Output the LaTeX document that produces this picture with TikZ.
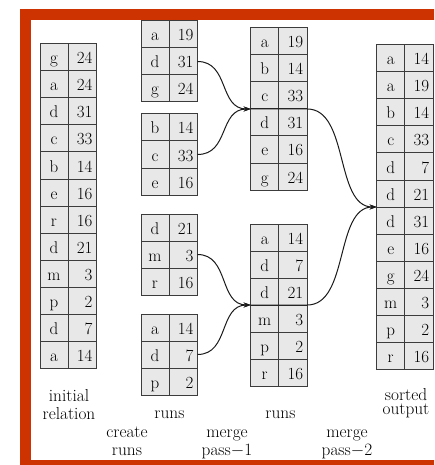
\documentclass[tikz,border=0pt]{standalone}
\usepackage{xcolor}
\definecolor{framec}{HTML}{CC3300}
\definecolor{cellc}{HTML}{E8E8E8}
\definecolor{ink}{HTML}{1A1A1A}
\usetikzlibrary{arrows.meta,positioning}

% one two-column table: name, left x, top y, rows key/value
\newcommand{\sorttable}[4]{%
  \foreach \rkey/\rval [count=\i] in {#4} {
    \node[keycell,anchor=north west] (#1-\i-k) at (#2,{#3+(\i-1)*27}) {\rkey};
    \node[valcell,right=0pt of #1-\i-k] (#1-\i-v) {\rval};
  }}

\begin{document}
\begin{tikzpicture}[x=1pt,y=-1pt,every node/.style={text=black}]
\tikzstyle{cell}=[draw=ink!85,line width=1pt,fill=cellc,minimum height=27pt,inner sep=0pt,outer sep=0pt,text height=16pt,text depth=3pt,font=\fontsize{17}{20}\selectfont]
\tikzstyle{keycell}=[cell,minimum width=28pt]
\tikzstyle{valcell}=[cell,inner xsep=4pt,text width=20.5pt,align=right]
\tikzstyle{caption}=[font=\fontsize{17.3}{17.5}\selectfont,align=center,inner sep=0pt]
\tikzstyle{merge}=[ink,line width=1pt,-{Stealth[length=7pt,width=5pt]}]
\useasboundingbox (0,0) rectangle (434,465);
\clip (0,0) rectangle (434,465);
\draw[framec,line width=11pt] (25.5,14.5) rectangle (460,465.5);

\sorttable{rel}{40}{44}{g/24,a/24,d/31,c/33,b/14,e/16,r/16,d/21,m/3,p/2,d/7,a/14}
\sorttable{ra}{141}{21}{a/19,d/31,g/24}
\sorttable{rb}{141}{114}{b/14,c/33,e/16}
\sorttable{rc}{141}{214}{d/21,m/3,r/16}
\sorttable{rd}{141}{314}{a/14,d/7,p/2}
\sorttable{ma}{250.7}{28}{a/19,b/14,c/33,d/31,e/16,g/24}
\sorttable{mb}{250.7}{224}{a/14,d/7,d/21,m/3,p/2,r/16}
\sorttable{out}{376.7}{45}{a/14,a/19,b/14,c/33,d/7,d/21,d/31,e/16,g/24,m/3,p/2,r/16}

\draw[merge] (ra-2-v.east) .. controls +(32,0) and +(-32,0) .. (ma-3-k.south west);
\draw[merge] (rb-2-v.east) .. controls +(32,0) and +(-32,0) .. (ma-3-k.south west);
\draw[merge] (rc-2-v.east) .. controls +(32,0) and +(-32,0) .. (mb-3-k.south west);
\draw[merge] (rd-2-v.east) .. controls +(32,0) and +(-32,0) .. (mb-3-k.south west);
\draw[merge] (ma-3-k.south west) -- (ma-3-v.south east) .. controls +(42,0) and +(-42,0) .. (out-6-k.south west);
\draw[merge] (mb-3-k.south west) -- (mb-3-v.south east) .. controls +(42,0) and +(-42,0) .. (out-6-k.south west);

\node[caption] (lrel) at (69,404.5) {initial\\relation};
\node[caption] (lruns) at (169.5,414.5) {runs};
\node[caption] (lcreate) at (127,441.4) {create\\runs};
\node[caption] (lpassa) at (227,444.4) {merge\\pass$-$1};
\node[caption] (lmruns) at (280.5,414.5) {runs};
\node[caption] (lpassb) at (347,444.4) {merge\\pass$-$2};
\node[caption,font=\fontsize{17.3}{14}\selectfont] (lsorted) at (406,403) {sorted\\output};
\end{tikzpicture}
\end{document}
